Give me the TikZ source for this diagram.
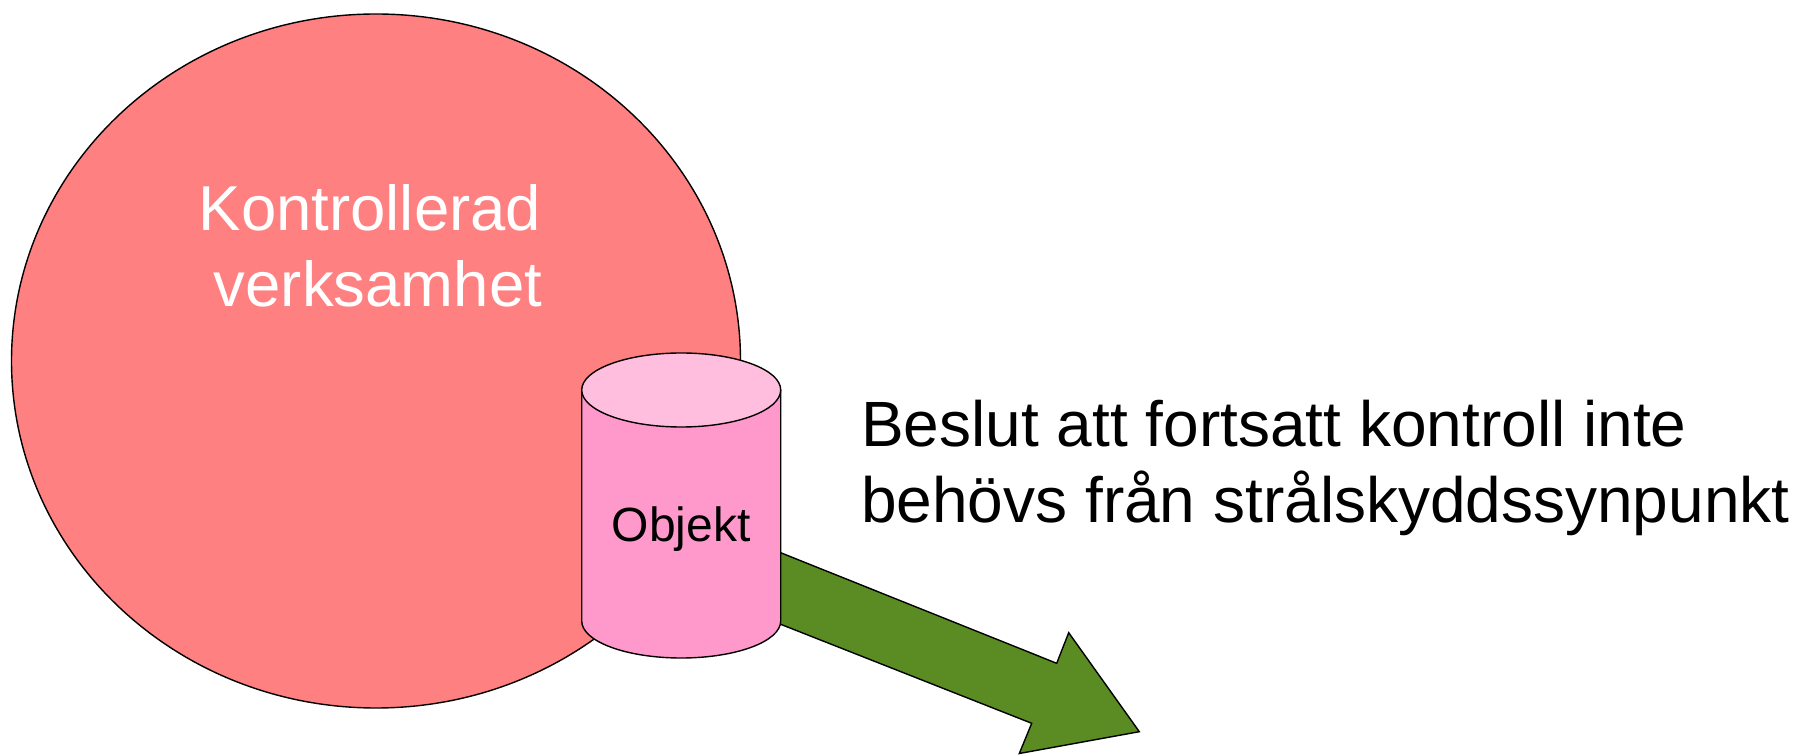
\documentclass[tikz,border=0pt]{standalone}
\usepackage{fontspec}
\setmainfont{Liberation Sans}
\definecolor{circfill}{RGB}{255,128,128}
\definecolor{cylbody}{RGB}{255,153,204}
\definecolor{cyltop}{RGB}{255,190,222}
\definecolor{arrgreen}{RGB}{90,140,35}
\begin{document}
\begin{tikzpicture}[x=1pt,y=1pt,
  outline/.style={draw=black,line width=1.4pt,line join=miter},
  bigtext/.style={inner sep=0pt,anchor=base,font=\fontsize{63.5}{76}\selectfont},
  sidetext/.style={inner sep=0pt,anchor=base west,font=\fontsize{64}{76}\selectfont},
  objtext/.style={inner sep=0pt,anchor=base,font=\fontsize{48}{56}\selectfont}]
\useasboundingbox (0,0) rectangle (1796,755);
% controlled activity
\path[outline,fill=circfill] (376,394) ellipse[x radius=364.5,y radius=347];
\node[bigtext,text=white] (k1) at (370,524.3) {Kontrollerad};
\node[bigtext,text=white] (k2) at (378,448) {verksamhet};
% cylinder anchor coordinates
\coordinate (cyl) at (681.2,250);
\coordinate (arrstartU) at (700,234.6);
\coordinate (arrstartL) at (700,162.5);
% arrow
\path[outline,fill=arrgreen] (arrstartU) -- (1056.7,91.7) -- (1068.7,122.3) -- (1139.3,23.3)
  -- (1019.3,1.5) -- (1031.7,31.7) -- (arrstartL) -- cycle;
% cylinder body
\path[outline,fill=cylbody] (581.7,365) -- (581.7,134)
  arc[start angle=180,end angle=360,x radius=99.5,y radius=37]
  -- (780.7,365) -- cycle;
\path[outline,fill=cyltop] (681.2,365) ellipse[x radius=99.5,y radius=37];
\node[objtext] (obj) at (681.2,213) {Objekt};
% decision text
\node[sidetext] (d1) at (861,308.3) {Beslut att fortsatt kontroll inte};
\node[sidetext] (d2) at (861,232) {behövs från strålskyddssynpunkt};
\end{tikzpicture}
\end{document}
